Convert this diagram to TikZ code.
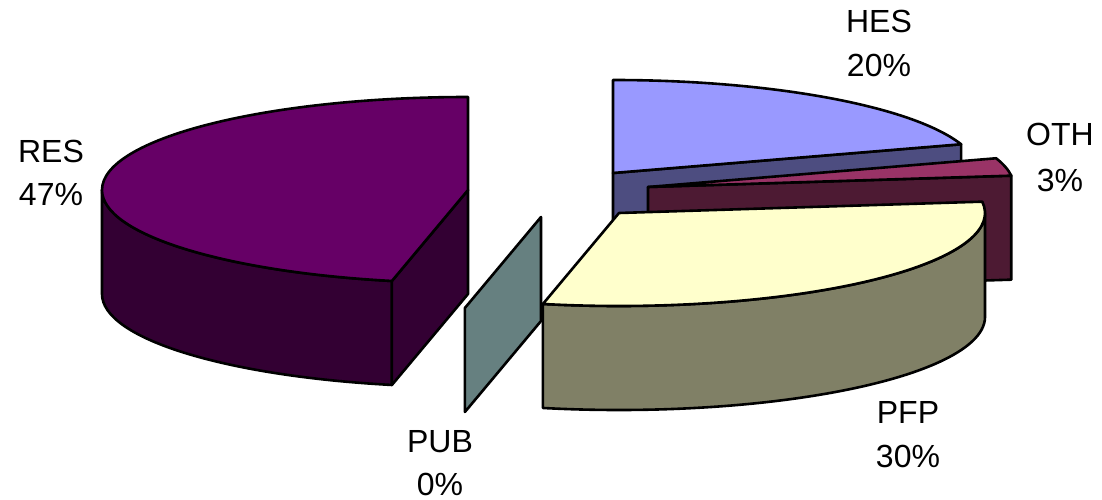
\documentclass[tikz,border=0pt]{standalone}
\usepackage{fontspec}
\setmainfont{Liberation Sans}
\usetikzlibrary{calc}
\definecolor{resTop}{HTML}{660066}
\definecolor{resSide}{HTML}{330033}
\definecolor{hesTop}{HTML}{9999FF}
\definecolor{hesSide}{HTML}{4D4D80}
\definecolor{othTop}{HTML}{993366}
\definecolor{othSide}{HTML}{4D1A33}
\definecolor{pfpTop}{HTML}{FFFFCC}
\definecolor{pfpSide}{HTML}{808066}
\definecolor{pubSide}{HTML}{668080}
\begin{document}
\begin{tikzpicture}[x=1pt,y=1pt,
  face/.style={draw=black, line width=2.6pt, line join=round},
  lbl/.style={font=\fontsize{32}{38}\selectfont, anchor=base, inner sep=0pt},
  ell/.style={x radius=366, y radius=93}]
\useasboundingbox (0,0) rectangle (1102,-500);
\def\dep{104}
% centres of the exploded slices
\coordinate (hesC) at (613,-173);
\coordinate (othC) at (648,-187);
\coordinate (pfpC) at (619,-213);
\coordinate (resC) at (468,-190);
\coordinate (pubC) at (541,-217);
% HES
\path[face, fill=hesSide] (hesC) -- ($(hesC)+(18:366 and 93)$) -- ++(0,-\dep) -- ($(hesC)+(0,-\dep)$) -- cycle;
\path[face, fill=hesTop] (hesC) -- ($(hesC)+(18:366 and 93)$) arc[start angle=18, end angle=90, ell] -- cycle;
% OTH
\path[face, fill=othSide] (othC) -- ($(othC)+(7:366 and 93)$) -- ++(0,-\dep) -- ($(othC)+(0,-\dep)$) -- cycle;
\path[face, fill=othTop] (othC) -- ($(othC)+(7:366 and 93)$) arc[start angle=7, end angle=18, ell] -- cycle;
% PFP
\path[face, fill=pfpSide] ($(pfpC)+(258:366 and 93)$) arc[start angle=258, end angle=360, ell] -- ++(0,-\dep) arc[start angle=360, end angle=258, ell] -- cycle;
\path[face, fill=pfpTop] (pfpC) -- ($(pfpC)+(258:366 and 93)$) arc[start angle=258, end angle=367, ell] -- cycle;
% RES
\path[face, fill=resSide] ($(resC)+(180:366 and 93)$) arc[start angle=180, end angle=258, ell] -- ++(0,-\dep) arc[start angle=258, end angle=180, ell] -- cycle;
\path[face, fill=resSide] (resC) -- ($(resC)+(258:366 and 93)$) -- ++(0,-\dep) -- ($(resC)+(0,-\dep)$) -- cycle;
\path[face, fill=resTop] (resC) -- ($(resC)+(90:366 and 93)$) arc[start angle=90, end angle=258, ell] -- cycle;
% PUB
\path[face, fill=pubSide] (pubC) -- ($(pubC)+(258:366 and 93)$) -- ++(0,-\dep) -- ($(pubC)+(0,-\dep)$) -- cycle;
% labels
\node[lbl] (hesN) at (879,-33) {HES};
\node[lbl] (hesP) at (879,-77) {20\%};
\node[lbl] (othN) at (1060,-146) {OTH};
\node[lbl] (othP) at (1060,-191) {3\%};
\node[lbl] (resN) at (51,-162) {RES};
\node[lbl] (resP) at (51,-205) {47\%};
\node[lbl] (pubN) at (440,-452) {PUB};
\node[lbl] (pubP) at (440,-495) {0\%};
\node[lbl] (pfpN) at (908,-423) {PFP};
\node[lbl] (pfpP) at (908,-467) {30\%};
\end{tikzpicture}
\end{document}
